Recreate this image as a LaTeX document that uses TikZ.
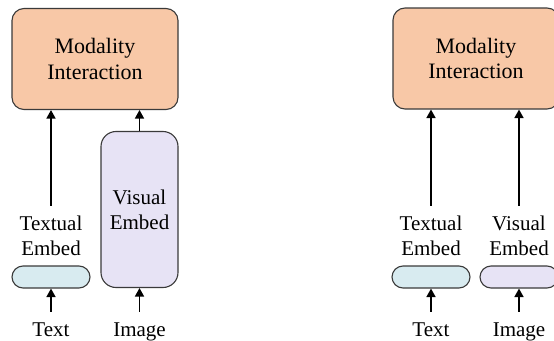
\documentclass[tikz,border=0pt]{standalone}
\usepackage{fontspec}
\setmainfont{Liberation Serif}
\usetikzlibrary{arrows.meta}
\definecolor{peach}{HTML}{F8C8A7}
\definecolor{lavender}{HTML}{E7E3F5}
\definecolor{paleblue}{HTML}{D8EBF0}
\definecolor{edge}{HTML}{3A3A3A}
\begin{document}
\begin{tikzpicture}[x=1pt,y=-1pt,
  lbl/.style={font=\fontsize{21}{25}\selectfont, align=center, inner xsep=0pt, inner ysep=10.5pt},
  blk/.style={lbl, draw=edge, line width=1.1pt, inner ysep=0pt},
  interact/.style={blk, font=\fontsize{22}{25.4}\selectfont, fill=peach, rounded corners=12pt, minimum width=166pt, minimum height=101pt},
  tallembed/.style={blk, fill=lavender, rounded corners=15pt, minimum width=77pt, minimum height=156pt},
  pill/.style={draw=edge, line width=1.1pt, rounded corners=11pt, minimum width=78pt, minimum height=22pt, inner sep=0pt},
  arr/.style={line width=1.6pt, -{Triangle[length=8.5pt,width=9pt]}}]
\useasboundingbox (0,0) rectangle (554,340);
\clip (0,0) rectangle (554,340);

% left panel: visual features embedded by a deep encoder
\node[interact] (mi1) at (95,59) {Modality\\Interaction};
\node[tallembed] (vb1) at (139.5,209.5) {Visual\\Embed};
\node[lbl] (tl1) at (51,236.2) {Textual\\Embed};
\node[pill, fill=paleblue] (tp1) at (51,277) {};
\node[lbl, anchor=base] (tx1) at (51,336) {Text};
\node[lbl, anchor=base] (im1) at (139.5,336) {Image};

\draw[arr] (tl1.north) -- (tl1.north |- mi1.south);
\draw[arr] (vb1.north) -- (vb1.north |- mi1.south);
\draw[arr] (tx1.north) -- (tp1.south);
\draw[arr] (im1.north) -- (vb1.south);

% right panel: both modalities use light embeddings
\node[interact] (mi2) at (476,58.5) {Modality\\Interaction};
\node[lbl] (tl2) at (431,236.2) {Textual\\Embed};
\node[lbl] (vl2) at (519,236.2) {Visual\\Embed};
\node[pill, fill=paleblue] (tp2) at (431,277) {};
\node[pill, fill=lavender] (vp2) at (519,277) {};
\node[lbl, anchor=base] (tx2) at (431,336) {Text};
\node[lbl, anchor=base] (im2) at (519,336) {Image};

\draw[arr] (tl2.north) -- (tl2.north |- mi2.south);
\draw[arr] (vl2.north) -- (vl2.north |- mi2.south);
\draw[arr] (tx2.north) -- (tp2.south);
\draw[arr] (im2.north) -- (vp2.south);
\end{tikzpicture}
\end{document}
